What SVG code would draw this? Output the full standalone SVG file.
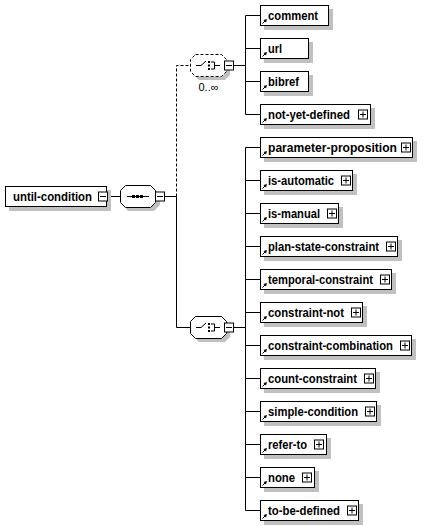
<svg xmlns="http://www.w3.org/2000/svg" width="429" height="526" viewBox="0 0 429 526">
<defs>
<style>
.sh{fill:#c0c0c0;stroke:none}
.box{fill:#fff;stroke:#000;stroke-width:1}
.pm{fill:#fff;stroke:#000;stroke-width:1}
.ln{fill:none;stroke:#000;stroke-width:1}
.dash{fill:none;stroke:#000;stroke-width:1;stroke-dasharray:3,2}
.dbox{fill:#fff;stroke:#000;stroke-width:1;stroke-dasharray:3,2}
text{font-family:"Liberation Sans",Arial,sans-serif;font-size:11px;fill:#000}
text.lbl{font-weight:700;font-size:12px}
</style>
<g id="refarrow"><path d="M2.5,18.5 L5.5,15.5" class="ln"/><path d="M7,14 L3.5,15 L6,17.5 Z" fill="#000"/></g>
<g id="plus"><rect class="pm" x="0.5" y="0.5" width="9" height="9"/><path class="ln" d="M2,5 H8 M5,2 V8"/></g>
<g id="minus"><rect class="pm" x="0.5" y="0.5" width="9" height="9"/><path class="ln" d="M2,5 H8"/></g>
</defs>
<rect width="429" height="526" fill="#fff"/>

<g id="connectors">
<path class="ln" d="M107,196.5 H120"/>
<path class="ln" d="M165,196.5 H176.5 V327.5 H190"/>
<path class="dash" d="M176.5,196.5 V65.5 H190"/>
<path class="ln" d="M234,65.5 H245.5 M245.5,15.5 V114.5 M245.5,15.5 H260 M245.5,48.5 H260 M245.5,81.5 H260 M245.5,114.5 H260"/>
<path class="ln" d="M234,327.5 H245.5 M245.5,147.5 V510.5 M245.5,147.5 H260 M245.5,180.5 H260 M245.5,213.5 H260 M245.5,246.5 H260 M245.5,279.5 H260 M245.5,312.5 H260 M245.5,345.5 H260 M245.5,378.5 H260 M245.5,411.5 H260 M245.5,444.5 H260 M245.5,477.5 H260 M245.5,510.5 H260"/>
</g>

<g id="until-condition">
<rect class="sh" x="9" y="190" width="102" height="21"/>
<rect class="box" x="5.5" y="186.5" width="101" height="20"/>
<text class="lbl" font-weight="bold" x="13" y="201" textLength="79" lengthAdjust="spacingAndGlyphs">until-condition</text>
<use href="#minus" x="98" y="191.5"/>
</g>

<g id="sequence">
<path class="sh" d="M128,189 H154 L160,195 V205 L154,211 H128 L123,205 V195 Z"/>
<path class="box" d="M125.5,185.5 H150.5 L155.5,190.5 V202.5 L150.5,207.5 H125.5 L120.5,202.5 V190.5 Z"/>
<path class="ln" d="M127,196.5 H149"/>
<rect x="132" y="195" width="3" height="3" fill="#000"/>
<rect x="136" y="195" width="3" height="3" fill="#000"/>
<rect x="140" y="195" width="3" height="3" fill="#000"/>
<use href="#minus" x="155" y="191.5"/>
</g>

<g id="choice-optional">
<path class="sh" d="M199,58 H225 L230,63 V75 L225,80 H199 L194,75 V63 Z"/>
<path class="dbox" d="M195.5,54.5 H221.5 L226.5,59.5 V71.5 L221.5,76.5 H195.5 L190.5,71.5 V59.5 Z"/>
<path class="ln" d="M196,65.5 H201 L206,61 M211,62 H214.5 V69 H211 M214.5,65.5 H220"/>
<rect x="208" y="61" width="2" height="2" fill="#000"/>
<rect x="208" y="64.5" width="2" height="2" fill="#000"/>
<rect x="208" y="68" width="2" height="2" fill="#000"/>
<use href="#minus" x="224" y="60.5"/>
<text x="208.5" y="91" text-anchor="middle">0..∞</text>
</g>

<g id="choice">
<path class="sh" d="M199,320 H225 L230,325 V337 L225,342 H199 L194,337 V325 Z"/>
<path class="box" d="M195.5,316.5 H221.5 L226.5,321.5 V333.5 L221.5,338.5 H195.5 L190.5,333.5 V321.5 Z"/>
<path class="ln" d="M196,327.5 H201 L206,323 M211,324 H214.5 V331 H211 M214.5,327.5 H220"/>
<rect x="208" y="323" width="2" height="2" fill="#000"/>
<rect x="208" y="326.5" width="2" height="2" fill="#000"/>
<rect x="208" y="330" width="2" height="2" fill="#000"/>
<use href="#minus" x="224" y="322.5"/>
</g>

<g id="comment" transform="translate(260,5)">
<rect class="sh" x="4" y="4" width="69" height="21"/>
<rect class="box" x="0.5" y="0.5" width="68" height="20"/>
<use href="#refarrow"/><text class="lbl" font-weight="bold" x="8" y="15" textLength="50" lengthAdjust="spacingAndGlyphs">comment</text>
</g>
<g id="url" transform="translate(260,38)">
<rect class="sh" x="4" y="4" width="49" height="21"/>
<rect class="box" x="0.5" y="0.5" width="48" height="20"/>
<use href="#refarrow"/><text class="lbl" font-weight="bold" x="8" y="15" textLength="14" lengthAdjust="spacingAndGlyphs">url</text>
</g>
<g id="bibref" transform="translate(260,71)">
<rect class="sh" x="4" y="4" width="49" height="21"/>
<rect class="box" x="0.5" y="0.5" width="48" height="20"/>
<use href="#refarrow"/><text class="lbl" font-weight="bold" x="8" y="15" textLength="31" lengthAdjust="spacingAndGlyphs">bibref</text>
</g>
<g id="not-yet-defined" transform="translate(260,104)">
<rect class="sh" x="4" y="4" width="111" height="21"/>
<rect class="box" x="0.5" y="0.5" width="110" height="20"/>
<use href="#refarrow"/><text class="lbl" font-weight="bold" x="8" y="15" textLength="82" lengthAdjust="spacingAndGlyphs">not-yet-defined</text>
<use href="#plus" x="98" y="5.5"/>
</g>

<g id="parameter-proposition" transform="translate(260,137)">
<rect class="sh" x="4" y="4" width="153" height="21"/>
<rect class="box" x="0.5" y="0.5" width="152" height="20"/>
<use href="#refarrow"/><text class="lbl" font-weight="bold" x="8" y="15" textLength="129" lengthAdjust="spacingAndGlyphs">parameter-proposition</text>
<use href="#plus" x="141" y="5.5"/>
</g>
<g id="is-automatic" transform="translate(260,170)">
<rect class="sh" x="4" y="4" width="93" height="21"/>
<rect class="box" x="0.5" y="0.5" width="92" height="20"/>
<use href="#refarrow"/><text class="lbl" font-weight="bold" x="8" y="15" textLength="66" lengthAdjust="spacingAndGlyphs">is-automatic</text>
<use href="#plus" x="81" y="5.5"/>
</g>
<g id="is-manual" transform="translate(260,203)">
<rect class="sh" x="4" y="4" width="79" height="21"/>
<rect class="box" x="0.5" y="0.5" width="78" height="20"/>
<use href="#refarrow"/><text class="lbl" font-weight="bold" x="8" y="15" textLength="52" lengthAdjust="spacingAndGlyphs">is-manual</text>
<use href="#plus" x="67" y="5.5"/>
</g>
<g id="plan-state-constraint" transform="translate(260,236)">
<rect class="sh" x="4" y="4" width="138" height="21"/>
<rect class="box" x="0.5" y="0.5" width="137" height="20"/>
<use href="#refarrow"/><text class="lbl" font-weight="bold" x="8" y="15" textLength="111" lengthAdjust="spacingAndGlyphs">plan-state-constraint</text>
<use href="#plus" x="126" y="5.5"/>
</g>
<g id="temporal-constraint" transform="translate(260,269)">
<rect class="sh" x="4" y="4" width="132" height="21"/>
<rect class="box" x="0.5" y="0.5" width="131" height="20"/>
<use href="#refarrow"/><text class="lbl" font-weight="bold" x="8" y="15" textLength="105" lengthAdjust="spacingAndGlyphs">temporal-constraint</text>
<use href="#plus" x="120" y="5.5"/>
</g>
<g id="constraint-not" transform="translate(260,302)">
<rect class="sh" x="4" y="4" width="103" height="21"/>
<rect class="box" x="0.5" y="0.5" width="102" height="20"/>
<use href="#refarrow"/><text class="lbl" font-weight="bold" x="8" y="15" textLength="76" lengthAdjust="spacingAndGlyphs">constraint-not</text>
<use href="#plus" x="91" y="5.5"/>
</g>
<g id="constraint-combination" transform="translate(260,335)">
<rect class="sh" x="4" y="4" width="152" height="21"/>
<rect class="box" x="0.5" y="0.5" width="151" height="20"/>
<use href="#refarrow"/><text class="lbl" font-weight="bold" x="8" y="15" textLength="125" lengthAdjust="spacingAndGlyphs">constraint-combination</text>
<use href="#plus" x="140" y="5.5"/>
</g>
<g id="count-constraint" transform="translate(260,368)">
<rect class="sh" x="4" y="4" width="116" height="21"/>
<rect class="box" x="0.5" y="0.5" width="115" height="20"/>
<use href="#refarrow"/><text class="lbl" font-weight="bold" x="8" y="15" textLength="89" lengthAdjust="spacingAndGlyphs">count-constraint</text>
<use href="#plus" x="104" y="5.5"/>
</g>
<g id="simple-condition" transform="translate(260,401)">
<rect class="sh" x="4" y="4" width="117" height="21"/>
<rect class="box" x="0.5" y="0.5" width="116" height="20"/>
<use href="#refarrow"/><text class="lbl" font-weight="bold" x="8" y="15" textLength="90" lengthAdjust="spacingAndGlyphs">simple-condition</text>
<use href="#plus" x="105" y="5.5"/>
</g>
<g id="refer-to" transform="translate(260,434)">
<rect class="sh" x="4" y="4" width="67" height="21"/>
<rect class="box" x="0.5" y="0.5" width="66" height="20"/>
<use href="#refarrow"/><text class="lbl" font-weight="bold" x="8" y="15" textLength="39" lengthAdjust="spacingAndGlyphs">refer-to</text>
<use href="#plus" x="54" y="5.5"/>
</g>
<g id="none" transform="translate(260,467)">
<rect class="sh" x="4" y="4" width="55" height="21"/>
<rect class="box" x="0.5" y="0.5" width="54" height="20"/>
<use href="#refarrow"/><text class="lbl" font-weight="bold" x="8" y="15" textLength="27" lengthAdjust="spacingAndGlyphs">none</text>
<use href="#plus" x="42" y="5.5"/>
</g>
<g id="to-be-defined" transform="translate(260,500)">
<rect class="sh" x="4" y="4" width="99" height="21"/>
<rect class="box" x="0.5" y="0.5" width="98" height="20"/>
<use href="#refarrow"/><text class="lbl" font-weight="bold" x="8" y="15" textLength="72" lengthAdjust="spacingAndGlyphs">to-be-defined</text>
<use href="#plus" x="87" y="5.5"/>
</g>
</svg>
